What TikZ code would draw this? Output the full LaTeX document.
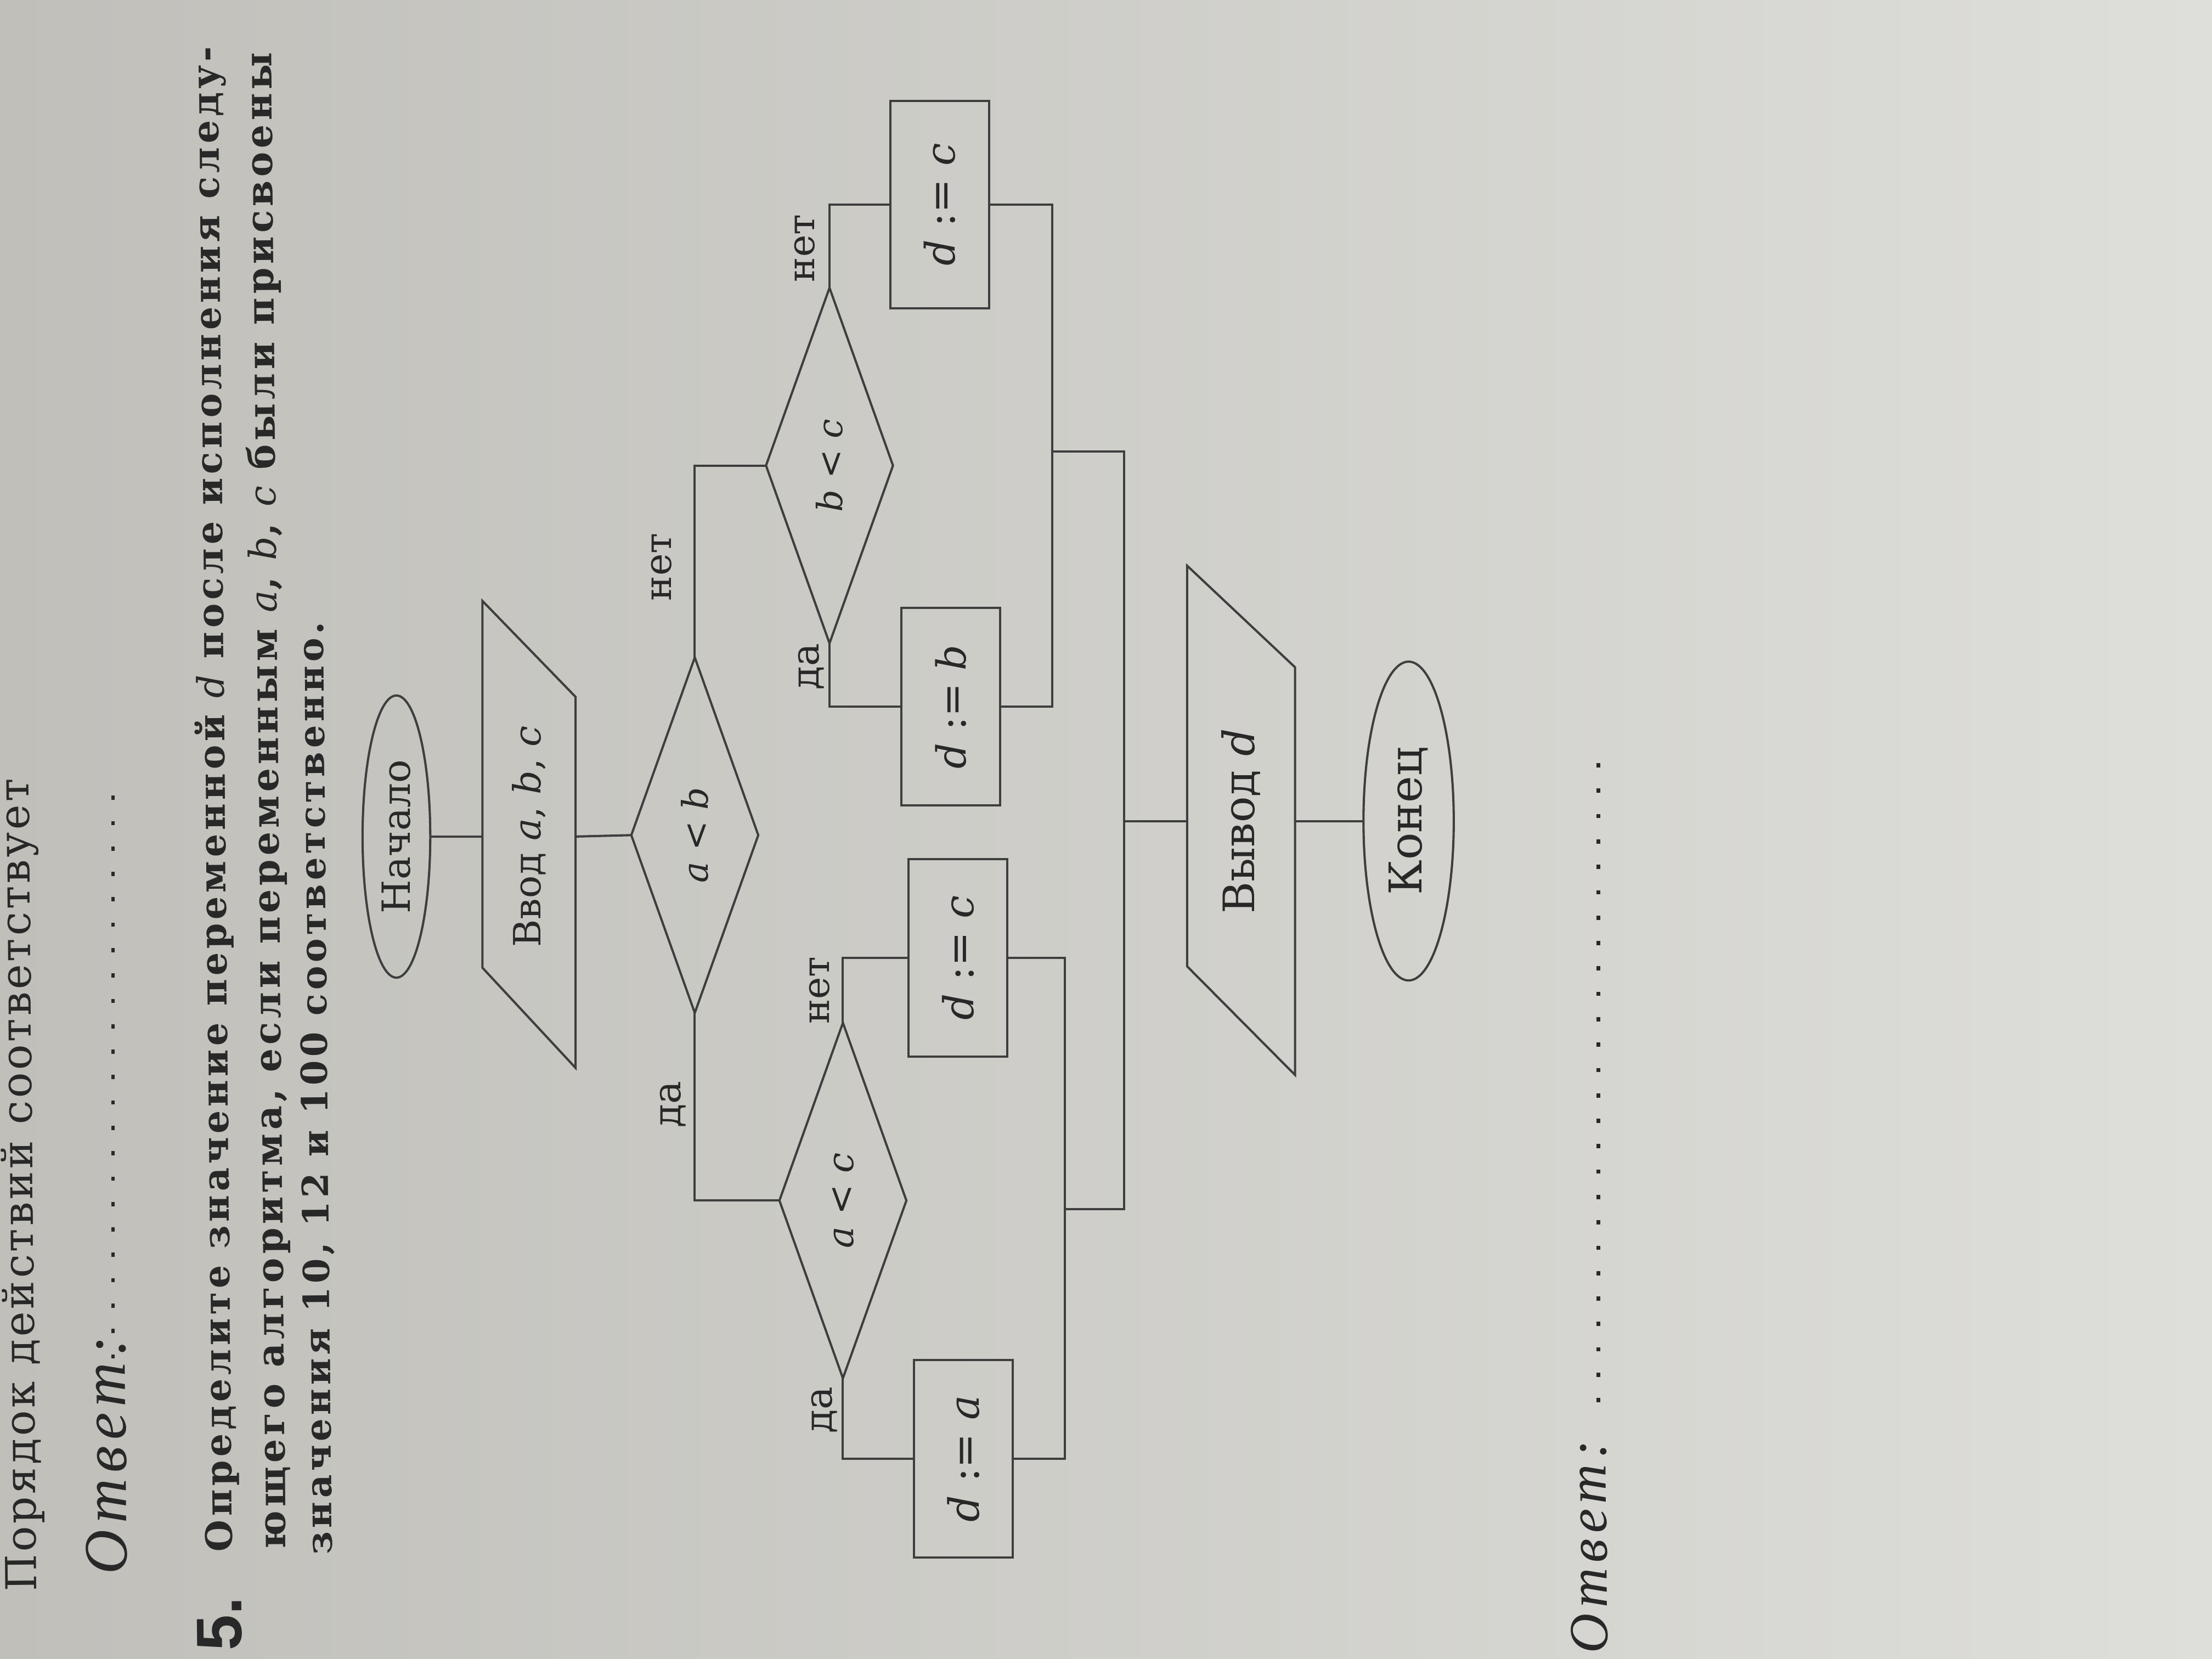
\documentclass[tikz,border=0pt]{standalone}
\usepackage{fontspec}
\usepackage{graphicx}
\usetikzlibrary{shapes.geometric}
\setmainfont{DejaVu Serif}
\newfontfamily\taskfont[LetterSpace=10]{DejaVu Serif}
\newfontfamily\prevfont[LetterSpace=6]{DejaVu Serif}
\newfontfamily\numfont{Liberation Sans}
\newfontfamily\ansfont[LetterSpace=10]{Liberation Serif}
\newdimen\pxd \pxd=0.02cm
\definecolor{paperL}{RGB}{192,191,186}
\definecolor{paperR}{RGB}{222,222,218}
\definecolor{ink}{RGB}{40,40,40}
\definecolor{lineink}{RGB}{62,62,62}
\newcommand{\fitw}[2]{\resizebox{#1\pxd}{!}{#2}}
\begin{document}
\begin{tikzpicture}[x=0.02cm, y=-0.02cm,
  every node/.style={inner sep=0pt, outer sep=0pt, text=ink},
  flow/.style={draw=lineink, line width=0.9pt},
  ttext/.style={rotate=90.55, anchor=west},
  lbl/.style={rotate=90},
  shapebox/.style={draw=lineink, line width=0.9pt, rectangle, minimum width=70\pxd, minimum height=140\pxd},
  decide/.style={draw=lineink, line width=0.9pt, diamond, minimum width=90\pxd, minimum height=252\pxd},
  term/.style={draw=lineink, line width=0.9pt, ellipse},
  dotline/.style={draw=ink, line width=2.5\pxd, dash pattern=on 3\pxd off 15\pxd},
]
\shade[left color=paperL, right color=paperR] (0,0) rectangle (1568,1176);
\useasboundingbox (0,0) rectangle (1568,1176);
\clip (0,0) rectangle (1568,1176);

% ---- task text ----
\node[ttext] (l0) at (18,1128) {\fitw{576}{\prevfont Порядок действий соответствует}};
\node[ttext] (ansA) at (76,1116) {\fitw{169}{\ansfont\itshape Ответ:}};
\coordinate (dA1) at (80,963);
\coordinate (dA2) at (80,560);
\draw[dotline] (dA1) -- (dA2);
\node[ttext] (n5) at (156,1170) {\fitw{38}{\numfont\bfseries 5.}};
\node[ttext] (l1) at (157,1100) {\fitw{1067}{\taskfont\bfseries Определите значение переменной {\normalfont\itshape d} после исполнения следу-}};
\node[ttext] (l2) at (195,1098) {\fitw{1061}{\taskfont\bfseries ющего алгоритма, если переменным {\normalfont\itshape a}, {\normalfont\itshape b}, {\normalfont\itshape c} были присвоены}};
\node[ttext] (l3) at (228,1102) {\fitw{661}{\taskfont\bfseries значения 10, 12 и 100 соответственно.}};
\node[ttext] (ansB) at (1127,1172) {\fitw{151}{\ansfont\itshape Ответ:}};
\coordinate (dB1) at (1133,994);
\coordinate (dB2) at (1133,539);
\draw[dotline] (dB1) -- (dB2);

% ---- flowchart ----
\node[term, minimum width=48\pxd, minimum height=200\pxd] (start) at (281,593) {\rotatebox{90}{\fitw{109}{Начало}}};
\node[minimum width=66\pxd, minimum height=100\pxd] (inp) at (375,593) {\rotatebox{90}{\fitw{157}{Ввод \textit{a}, \textit{b}, \textit{c}}}};
\draw[flow] (342,426) -- (408,494) -- (408,757) -- (342,686) -- cycle;

\node[decide] (ab) at (492.5,592) {\rotatebox{90}{\fitw{68}{\textit{a} < \textit{b}}}};
\node[decide] (bc) at (588,330) {\rotatebox{90}{\fitw{66}{\textit{b} < \textit{c}}}};
\node[decide] (ac) at (597.5,851) {\rotatebox{90}{\fitw{68}{\textit{a} < \textit{c}}}};

\node[shapebox, minimum height=147\pxd] (dc2) at (666,145) {\rotatebox{90}{\fitw{87}{\textit{d} := \textit{c}}}};
\node[shapebox] (db) at (674,501) {\rotatebox{90}{\fitw{88}{\textit{d} := \textit{b}}}};
\node[shapebox] (dc1) at (679,679) {\rotatebox{90}{\fitw{88}{\textit{d} := \textit{c}}}};
\node[shapebox] (da) at (683,1034) {\rotatebox{90}{\fitw{90}{\textit{d} := \textit{a}}}};

\node[minimum width=76.5\pxd, minimum height=100\pxd] (out) at (879.75,582) {\rotatebox{90}{\fitw{131}{Вывод \textit{d}}}};
\draw[flow] (841.5,401) -- (918,473) -- (918,762) -- (841.5,685) -- cycle;
\node[term, minimum width=64\pxd, minimum height=226\pxd] (end) at (998.5,582) {\rotatebox{90}{\fitw{105}{Конец}}};

% labels
\node[lbl] (nAB) at (469,402) {\fitw{48}{нет}};
\node[lbl] (yAB) at (477,783) {\fitw{33}{да}};
\node[lbl] (nBC) at (570.5,176) {\fitw{48}{нет}};
\node[lbl] (yBC) at (575,472.6) {\fitw{33}{да}};
\node[lbl] (nAC) at (581,702) {\fitw{48}{нет}};
\node[lbl] (yAC) at (584.5,999.5) {\fitw{33}{да}};

% connectors
\coordinate (mR) at (746,320);
\coordinate (mL) at (755,857);
\coordinate (jR) at (797,320);
\coordinate (jL) at (797,857);
\coordinate (jO) at (797,582);
\draw[flow] (start.east) -- (inp.west);
\draw[flow] (inp.east) -- (ab.west);
\draw[flow] (ab.north) |- (bc.west);
\draw[flow] (ab.south) |- (ac.west);
\draw[flow] (bc.north) |- (dc2.west);
\draw[flow] (bc.south) |- (db.west);
\draw[flow] (ac.north) |- (dc1.west);
\draw[flow] (ac.south) |- (da.west);
\draw[flow] (dc2.east) -| (mR) |- (db.east);
\draw[flow] (dc1.east) -| (mL) |- (da.east);
\draw[flow] (mR) -- (jR) -- (jL) -- (mL);
\draw[flow] (jO) -- (out.west);
\draw[flow] (out.east) -- (end.west);
\end{tikzpicture}
\end{document}
